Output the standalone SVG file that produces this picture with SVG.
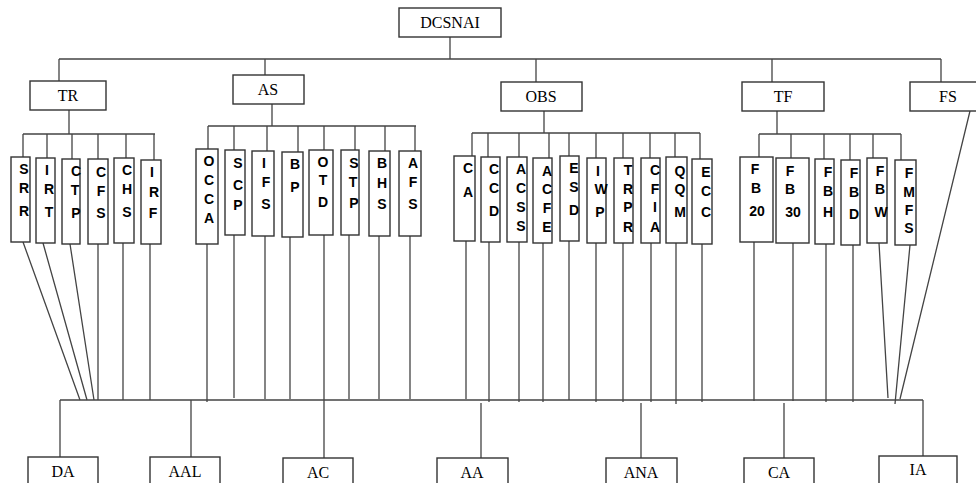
<svg xmlns="http://www.w3.org/2000/svg" width="976" height="483" viewBox="0 0 976 483">
<style>
rect{fill:#fff;stroke:#333;stroke-width:1.4}
.c path{fill:none;stroke:#444;stroke-width:1.3}
.t{font-family:"Liberation Serif","Times New Roman",serif;font-size:16px;fill:#000;text-anchor:middle}
.v{font-family:"Liberation Sans",Arial,sans-serif;font-size:14px;font-weight:bold;fill:#000;text-anchor:middle}
</style>
<rect x="0" y="0" width="976" height="483" style="stroke:none"/>
<g class="c" id="connectors">
<path d="M59 59H941M450 37V59M59 59V81M265 59V75M536 59V82M772 59V82M941 59V82"/>
<path d="M69 110V134M23 134H155M23 134V157M47 134V158M72 134V159M98 134V159M126 134V158M154 134V160"/>
<path d="M272 104V126M208 126H416M208 126V149M234 126V150M267 126V151M298 126V152M324 126V150M355 126V150M385 126V151M415 126V151"/>
<path d="M544 111V133M472 133H700M472 133V156M488 133V157M519 133V157M549 133V158M569 133V156M596 133V158M623 133V158M650 133V158M675 133V157M700 133V159"/>
<path d="M777 111V134M759 134H901M759 134V157M791 134V158M824 134V159M850 134V160M873 134V158M901 134V160"/>
<path d="M23 242L80 400M43 243L87 400M70 244L94 400M98 244V400M123 243V400M150 244V400"/>
<path d="M207 244V402M234 235V398M265 236V399M290 237V399M324 235V458M349 235V399M379 236V399M410 236V399"/>
<path d="M466 241V399M489 242V402M519 242V402M543 243V402M569 241V400M596 243V402M623 243V402M651 243V402M676 243V404M702 244V402"/>
<path d="M754 242V401M793 243V401M826 244V402M853 245V402M879 243L888 398M910 245L895 404M970 111L900 399"/>
<path d="M60 400H923M60 400V457M191 400V457M481 403V458M641 403V458M784 403V458M923 400V456"/>
</g>
<g id="DCSNAI"><rect x="399" y="8" width="102" height="29"/><text class="t" x="450" y="28">DCSNAI</text></g>
<g id="TR"><rect x="30" y="81" width="76" height="29"/><text class="t" x="68" y="101">TR</text></g>
<g id="AS"><rect x="233" y="75" width="71" height="29"/><text class="t" x="268" y="95">AS</text></g>
<g id="OBS"><rect x="501" y="82" width="81" height="29"/><text class="t" x="541" y="102">OBS</text></g>
<g id="TF"><rect x="742" y="82" width="82" height="29"/><text class="t" x="783" y="102">TF</text></g>
<g id="FS"><rect x="910" y="82" width="70" height="29"/><text class="t" x="948" y="102">FS</text></g>
<g id="SRR"><rect x="11" y="157" width="19" height="85"/><text class="v" x="24" y="174">S</text><text class="v" x="24" y="193">R</text><text class="v" x="24" y="216">R</text></g>
<g id="IRT"><rect x="36" y="158" width="19" height="85"/><text class="v" x="47" y="175">I</text><text class="v" x="49" y="194">R</text><text class="v" x="49" y="217">T</text></g>
<g id="CTP"><rect x="62" y="159" width="18" height="85"/><text class="v" x="76" y="176">C</text><text class="v" x="75" y="195">T</text><text class="v" x="76" y="218">P</text></g>
<g id="CFS"><rect x="88" y="159" width="20" height="85"/><text class="v" x="101" y="177">C</text><text class="v" x="101" y="196">F</text><text class="v" x="101" y="218">S</text></g>
<g id="CHS"><rect x="114" y="158" width="20" height="85"/><text class="v" x="127" y="175">C</text><text class="v" x="127" y="194">H</text><text class="v" x="127" y="217">S</text></g>
<g id="IRF"><rect x="141" y="160" width="20" height="84"/><text class="v" x="152" y="177">I</text><text class="v" x="154" y="197">R</text><text class="v" x="153" y="218">F</text></g>
<g id="OCCA"><rect x="196" y="149" width="22" height="95"/><text class="v" x="209" y="166">O</text><text class="v" x="209" y="185">C</text><text class="v" x="209" y="204">C</text><text class="v" x="209" y="223">A</text></g>
<g id="SCP"><rect x="225" y="150" width="20" height="85"/><text class="v" x="238" y="168">S</text><text class="v" x="238" y="190">C</text><text class="v" x="238" y="210">P</text></g>
<g id="IFS"><rect x="252" y="151" width="22" height="85"/><text class="v" x="264" y="168">I</text><text class="v" x="266" y="187">F</text><text class="v" x="266" y="209">S</text></g>
<g id="BP"><rect x="282" y="152" width="21" height="85"/><text class="v" x="295" y="169">B</text><text class="v" x="295" y="192">P</text></g>
<g id="OTD"><rect x="309" y="150" width="24" height="85"/><text class="v" x="323" y="167">O</text><text class="v" x="323" y="185">T</text><text class="v" x="323" y="207">D</text></g>
<g id="STP"><rect x="341" y="150" width="18" height="85"/><text class="v" x="354" y="168">S</text><text class="v" x="353" y="187">T</text><text class="v" x="354" y="208">P</text></g>
<g id="BHS"><rect x="369" y="151" width="21" height="85"/><text class="v" x="382" y="168">B</text><text class="v" x="382" y="188">H</text><text class="v" x="382" y="209">S</text></g>
<g id="AFS"><rect x="399" y="151" width="22" height="85"/><text class="v" x="413" y="168">A</text><text class="v" x="413" y="187">F</text><text class="v" x="413" y="209">S</text></g>
<g id="CA"><rect x="454" y="156" width="21" height="85"/><text class="v" x="468" y="173">C</text><text class="v" x="468" y="197">A</text></g>
<g id="CCD"><rect x="481" y="157" width="19" height="85"/><text class="v" x="494" y="174">C</text><text class="v" x="494" y="193">C</text><text class="v" x="494" y="216">D</text></g>
<g id="ACSS"><rect x="507" y="157" width="20" height="85"/><text class="v" x="521" y="174">A</text><text class="v" x="521" y="193">C</text><text class="v" x="521" y="212">S</text><text class="v" x="521" y="231">S</text></g>
<g id="ACFE"><rect x="533" y="158" width="19" height="85"/><text class="v" x="547" y="176">A</text><text class="v" x="547" y="194">C</text><text class="v" x="547" y="213">F</text><text class="v" x="547" y="232">E</text></g>
<g id="ESD"><rect x="560" y="156" width="19" height="85"/><text class="v" x="574" y="173">E</text><text class="v" x="574" y="192">S</text><text class="v" x="574" y="215">D</text></g>
<g id="IWP"><rect x="587" y="158" width="19" height="85"/><text class="v" x="598" y="176">I</text><text class="v" x="601" y="194">W</text><text class="v" x="600" y="217">P</text></g>
<g id="TRPR"><rect x="614" y="158" width="19" height="85"/><text class="v" x="628" y="175">T</text><text class="v" x="628" y="194">R</text><text class="v" x="628" y="212">P</text><text class="v" x="628" y="232">R</text></g>
<g id="CFIA"><rect x="641" y="158" width="19" height="85"/><text class="v" x="655" y="175">C</text><text class="v" x="655" y="194">F</text><text class="v" x="655" y="212">I</text><text class="v" x="655" y="232">A</text></g>
<g id="QQM"><rect x="666" y="157" width="21" height="86"/><text class="v" x="680" y="176">Q</text><text class="v" x="680" y="194">Q</text><text class="v" x="680" y="217">M</text></g>
<g id="ECC"><rect x="692" y="159" width="20" height="85"/><text class="v" x="706" y="177">E</text><text class="v" x="706" y="196">C</text><text class="v" x="706" y="217">C</text></g>
<g id="FB20"><rect x="740" y="157" width="33" height="85"/><text class="v" x="755" y="174">F</text><text class="v" x="756" y="193">B</text><text class="v" x="757" y="216">20</text></g>
<g id="FB30"><rect x="776" y="158" width="33" height="85"/><text class="v" x="790" y="176">F</text><text class="v" x="790" y="194">B</text><text class="v" x="793" y="217">30</text></g>
<g id="FBH"><rect x="815" y="159" width="19" height="85"/><text class="v" x="828" y="177">F</text><text class="v" x="828" y="196">B</text><text class="v" x="828" y="217">H</text></g>
<g id="FBD"><rect x="841" y="160" width="19" height="85"/><text class="v" x="854" y="178">F</text><text class="v" x="854" y="197">B</text><text class="v" x="854" y="219">D</text></g>
<g id="FBW"><rect x="867" y="158" width="20" height="85"/><text class="v" x="880" y="176">F</text><text class="v" x="880" y="194">B</text><text class="v" x="881" y="217">W</text></g>
<g id="FMFS"><rect x="895" y="160" width="21" height="85"/><text class="v" x="909" y="178">F</text><text class="v" x="909" y="197">M</text><text class="v" x="909" y="215">F</text><text class="v" x="909" y="233">S</text></g>
<g id="DA"><rect x="28" y="457" width="70" height="30"/><text class="t" x="63" y="477">DA</text></g>
<g id="AAL"><rect x="150" y="457" width="70" height="30"/><text class="t" x="185" y="477">AAL</text></g>
<g id="AC"><rect x="283" y="458" width="70" height="30"/><text class="t" x="318" y="478">AC</text></g>
<g id="AA"><rect x="437" y="458" width="71" height="30"/><text class="t" x="472" y="478">AA</text></g>
<g id="ANA"><rect x="606" y="458" width="71" height="30"/><text class="t" x="641" y="478">ANA</text></g>
<g id="CA2"><rect x="744" y="458" width="70" height="30"/><text class="t" x="779" y="478">CA</text></g>
<g id="IA"><rect x="879" y="456" width="78" height="30"/><text class="t" x="918" y="475">IA</text></g>
</svg>
